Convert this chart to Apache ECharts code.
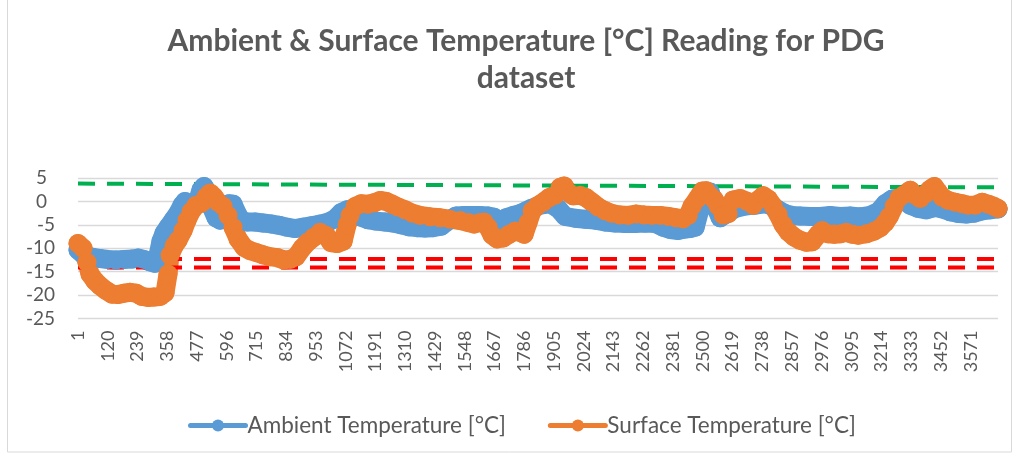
<!DOCTYPE html>
<html>
<head>
<meta charset="UTF-8">
<title>Ambient & Surface Temperature</title>
<script src="https://cdn.jsdelivr.net/npm/echarts@6/dist/echarts.min.js"></script>
<style>
  body { margin: 0; background: #fff; }
  #chart { width: 1016px; height: 458px; }
</style>
</head>
<body>
<div id="chart"></div>
<script>
// sample numbers 1..N on the category axis
const SAMPLE_COUNT = 3680
const categories = []
for (let i = 1; i <= SAMPLE_COUNT; i++) categories.push(String(i))

// readings: [sample index (0-based), °C]
const ambientPts = [
  [0, -10.4], [24, -11.5], [56, -11.9], [88, -12.2], [120, -12.4], [152, -12.5],
  [184, -12.4], [216, -12.3], [240, -12.1], [264, -12.4], [288, -12.9], [308, -13.2],
  [320, -11.5], [332, -8.5], [344, -6.8], [360, -5.5], [380, -4.0], [400, -2.5],
  [416, -0.8], [428, 0.0], [440, -1.0], [456, -1.2], [476, -0.4], [492, 2.5],
  [504, 3.2], [520, 1.8], [536, -1.5], [552, -3.5], [568, -4.0], [584, -2.0],
  [604, -0.5], [620, -0.6], [636, -2.5], [652, -4.0], [676, -4.4], [708, -4.4],
  [740, -4.6], [772, -4.8], [804, -5.1], [836, -5.5], [868, -5.8], [900, -5.5],
  [932, -5.2], [964, -4.9], [996, -4.5], [1028, -3.7], [1052, -2.4], [1076, -1.8],
  [1100, -2.4], [1128, -3.3], [1160, -3.9], [1192, -4.2], [1228, -4.4], [1260, -4.6],
  [1292, -5.0], [1324, -5.4], [1356, -5.6], [1388, -5.7], [1420, -5.6], [1452, -5.3],
  [1484, -4.0], [1512, -3.1], [1544, -3.0], [1576, -3.0], [1608, -3.0], [1640, -3.1],
  [1664, -3.4], [1688, -4.4], [1712, -3.5], [1740, -3.0], [1768, -2.6], [1792, -2.0],
  [1812, -1.5], [1848, -0.8], [1888, -0.5], [1920, -1.5], [1948, -3.2], [1988, -3.6],
  [2028, -3.8], [2068, -4.0], [2108, -4.4], [2148, -4.6], [2188, -4.7], [2228, -4.7],
  [2268, -4.6], [2308, -4.7], [2340, -5.5], [2368, -6.0], [2400, -6.2], [2428, -5.9],
  [2448, -5.8], [2468, -5.5], [2488, -1.5], [2508, 1.5], [2528, 2.0], [2548, -1.0],
  [2568, -3.5], [2588, -2.8], [2628, -1.5], [2668, -1.0], [2708, -0.8], [2748, -0.5],
  [2776, -1.0], [2800, -1.8], [2828, -2.6], [2856, -3.0], [2888, -3.1], [2928, -3.2],
  [2968, -3.2], [3008, -3.0], [3048, -3.2], [3088, -3.1], [3128, -3.3], [3168, -3.0],
  [3200, -2.2], [3228, -0.5], [3256, 0.5], [3288, 0.8], [3328, -0.8], [3360, -1.5],
  [3392, -1.8], [3428, -1.3], [3456, -1.6], [3488, -2.2], [3520, -2.6], [3552, -2.7],
  [3584, -2.5], [3616, -2.0], [3648, -1.8], [3679, -1.6]
]

const surfacePts = [
  [0, -9.0], [20, -10.0], [36, -13.0], [48, -15.5], [68, -17.0], [88, -18.0],
  [112, -19.0], [136, -19.8], [160, -19.9], [184, -19.6], [208, -19.4], [232, -19.6],
  [256, -20.3], [280, -20.5], [304, -20.4], [328, -20.3], [348, -19.5], [360, -15.5],
  [368, -11.5], [384, -9.5], [400, -8.3], [420, -6.2], [436, -4.0], [452, -2.2],
  [472, -0.8], [496, -0.3], [512, 1.0], [528, 1.8], [544, 1.0], [560, -0.2],
  [580, -1.0], [600, -3.0], [620, -5.5], [640, -8.0], [664, -9.8], [688, -10.5],
  [712, -10.9], [740, -11.4], [768, -11.8], [796, -12.0], [824, -12.5], [848, -12.4],
  [872, -11.8], [896, -10.0], [920, -8.6], [944, -7.6], [968, -6.6], [992, -7.2],
  [1012, -8.8], [1036, -9.0], [1060, -8.5], [1076, -5.0], [1088, -3.0], [1108, -1.1],
  [1132, -0.5], [1160, -0.6], [1184, -0.3], [1208, 0.2], [1232, 0.0], [1256, -0.6],
  [1280, -1.2], [1308, -1.8], [1336, -2.5], [1368, -3.0], [1408, -3.3], [1448, -3.5],
  [1488, -3.8], [1528, -4.1], [1560, -4.5], [1584, -4.8], [1608, -4.5], [1624, -4.4],
  [1640, -5.5], [1656, -7.2], [1676, -8.0], [1700, -7.8], [1724, -7.0], [1748, -6.3],
  [1768, -6.6], [1784, -7.0], [1800, -4.5], [1816, -2.0], [1836, -1.0], [1860, -0.2],
  [1884, 0.8], [1908, 1.3], [1928, 3.0], [1944, 3.3], [1960, 2.0], [1980, 1.2],
  [2008, 1.3], [2032, 0.8], [2056, -0.2], [2080, -1.2], [2108, -2.0], [2136, -2.6],
  [2168, -2.9], [2200, -3.0], [2232, -2.7], [2264, -2.9], [2296, -3.0], [2328, -3.0],
  [2360, -3.2], [2392, -3.5], [2420, -3.7], [2440, -3.0], [2456, -1.0], [2476, 0.5],
  [2496, 2.2], [2512, 2.3], [2528, 1.2], [2544, 0.4], [2560, -1.0], [2580, -2.9],
  [2600, -2.6], [2620, 0.3], [2648, 0.6], [2676, 0.0], [2700, -0.8], [2720, 0.3],
  [2740, 1.2], [2760, 0.5], [2780, -1.0], [2800, -2.8], [2820, -5.0], [2840, -6.5],
  [2864, -7.6], [2888, -8.3], [2912, -8.7], [2936, -8.6], [2960, -7.0], [2976, -6.2],
  [3000, -6.9], [3024, -7.0], [3048, -6.9], [3072, -6.6], [3096, -7.0], [3120, -7.2],
  [3152, -6.9], [3184, -6.3], [3208, -5.6], [3228, -4.5], [3244, -3.2], [3264, -1.0],
  [3284, 0.8], [3304, 1.5], [3328, 2.4], [3352, 1.2], [3368, 0.6], [3388, 1.6],
  [3408, 2.6], [3424, 3.2], [3440, 2.0], [3456, 0.9], [3480, 0.2], [3508, -0.2],
  [3536, -0.5], [3560, -0.8], [3588, -0.8], [3616, -0.2], [3640, -0.6], [3660, -1.0],
  [3679, -1.5]
]

// dashed limit lines (start, end)
const greenLimit = [[0, 3.8], [SAMPLE_COUNT - 1, 3.0]]
const redUpper = [[0, -12.3], [SAMPLE_COUNT - 1, -12.3]]
const redLower = [[0, -14.1], [SAMPLE_COUNT - 1, -14.1]]

const yTicks = { min: -25, max: 5, step: 5 }

const FONT = 'Lato, "Open Sans", sans-serif'
const TEXT = '#595959'

// thick marker band like the spreadsheet's dense markers
function tempSeries(name, color, pts) {
  return {
    name,
    type: 'line',
    data: pts,
    symbol: 'circle',
    symbolSize: 19,
    showSymbol: true,
    showAllSymbol: true,
    itemStyle: { color },
    lineStyle: { color, width: 19, join: 'round', cap: 'round' },
    emphasis: { disabled: true }
  }
}

function dashSeries(color, pts) {
  return {
    type: 'line',
    data: pts,
    symbol: 'none',
    silent: true,
    lineStyle: { color, width: 4, type: [17, 12], cap: 'butt' },
    emphasis: { disabled: true }
  }
}

const chart = echarts.init(document.getElementById('chart'))
chart.setOption({
  animation: false,
  textStyle: { fontFamily: FONT },
  title: {
    text: 'Ambient & Surface Temperature [°C] Reading for PDG\ndataset',
    left: 521,
    textAlign: 'center',
    top: 18,
    textStyle: { fontFamily: FONT, fontSize: 30, fontWeight: 'bold', color: TEXT, lineHeight: 37 }
  },
  graphic: [{
    type: 'rect',
    shape: { x: 7.5, y: -2, width: 1004, height: 454 },
    style: { fill: null, stroke: '#D9D9D9', lineWidth: 1 },
    silent: true
  }],
  legend: {
    data: ['Ambient Temperature [°C]', 'Surface Temperature [°C]'],
    top: 409,
    left: 183,
    itemWidth: 55,
    itemHeight: 15,
    itemGap: 42,
    lineStyle: { width: 5 },
    textStyle: { fontFamily: FONT, fontSize: 22.5, color: TEXT, padding: [0, 0, 0, -3] }
  },
  grid: { left: 78, right: 18, top: 178, bottom: 139.5 },
  xAxis: {
    type: 'category',
    data: categories,
    boundaryGap: false,
    axisLine: { show: false, onZero: false },
    axisTick: { show: false },
    axisLabel: {
      interval: 118,
      rotate: 90,
      margin: 12,
      fontFamily: FONT,
      fontSize: 18,
      color: TEXT
    },
    splitLine: { show: false }
  },
  yAxis: {
    type: 'value',
    min: yTicks.min,
    max: yTicks.max,
    interval: yTicks.step,
    axisLine: { show: false },
    axisTick: { show: false },
    axisLabel: {
      margin: 23,
      fontFamily: FONT,
      fontSize: 19,
      color: TEXT,
      formatter: v => (v >= 0 ? '{p|' + v + '}' : String(v)),
      rich: { p: { fontFamily: FONT, fontSize: 19, color: TEXT, padding: [0, 8, 0, 0] } }
    },
    splitLine: { lineStyle: { color: '#D9D9D9', width: 1.3 } }
  },
  series: [
    tempSeries('Ambient Temperature [°C]', '#5B9BD5', ambientPts),
    tempSeries('Surface Temperature [°C]', '#ED7D31', surfacePts),
    dashSeries('#00B050', greenLimit),
    dashSeries('#FF0000', redUpper),
    dashSeries('#FF0000', redLower)
  ]
})
window.addEventListener('resize', () => chart.resize())
</script>
</body>
</html>
